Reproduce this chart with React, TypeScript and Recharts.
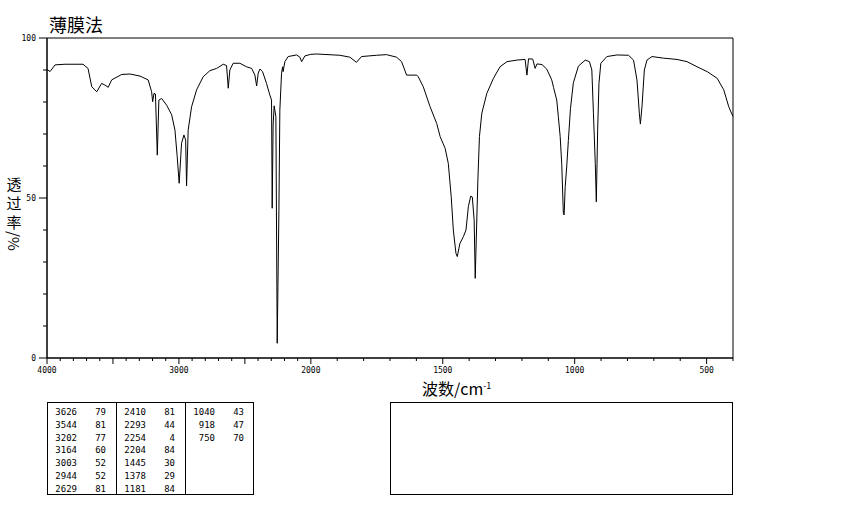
import React from "react"
import { LineChart, Line, XAxis, YAxis, ReferenceArea } from "recharts"

// spectrum trace (cm-1 / %T)
const wavenumbers = [
  4000, 3977, 3939, 3864, 3727, 3689, 3661, 3623, 3586, 3561, 3536, 3510, 3434, 3371, 3295, 3233, 3207, 3199,
  3189, 3178, 3164, 3152, 3131, 3093, 3055, 3030, 3013, 2998, 2980, 2962, 2949, 2942, 2930, 2904, 2866, 2816,
  2765, 2714, 2664, 2639, 2626, 2614, 2589, 2538, 2487, 2449, 2424, 2411, 2399, 2386, 2366, 2336, 2311, 2298,
  2293, 2286, 2278, 2265, 2255, 2242, 2235, 2222, 2214, 2210, 2197, 2172, 2108, 2083, 2070, 2045, 2000,
  1978, 1890, 1852, 1827, 1808, 1751, 1713, 1675, 1656, 1637, 1599, 1593, 1574, 1548, 1523, 1510, 1491, 1479,
  1468, 1460, 1450, 1445, 1435, 1422, 1412, 1403, 1394, 1388, 1381, 1377, 1367, 1361, 1352, 1333, 1308, 1283,
  1257, 1219, 1188, 1181, 1175, 1159, 1150, 1143, 1124, 1106, 1087, 1080, 1068, 1062, 1055, 1049, 1043, 1040,
  1036, 1030, 1024, 1016, 1005, 986, 960, 944, 935, 929, 922, 918, 913, 908, 901, 878, 840, 796, 777, 764,
  755, 751, 745, 736, 726, 707, 663, 612, 574, 536, 498, 460, 435, 416, 403, 400,
]
const transmittance = [
  90.2, 89.5, 91.6, 91.8, 91.8, 90.5, 84.8, 83.2, 85.8, 85.3, 84.6, 86.9, 88.6, 88.75, 88.1, 86.9, 83.2, 80.1,
  82.7, 82.5, 63.4, 80.6, 81.1, 79, 76, 71.2, 62.9, 54.6, 67.1, 69.7, 68.1, 53.8, 71.2, 78.5, 83.8, 87.9,
  89.8, 90.5, 91.8, 91.4, 84.3, 90, 92.1, 92.1, 91, 90.5, 88.4, 85, 89, 90.3, 89.5, 85.8, 82.2, 80.6,
  46.8, 72.8, 78.8, 75.4, 4.6, 46.2, 77.5, 89, 91, 89.5, 92.6, 94.2, 94.7, 94.0, 92.6, 94.4, 94.9,
  95, 94.6, 94, 92.4, 94.2, 94.6, 94.8, 94, 92.6, 88.4, 88.4, 87.9, 84.8, 78.5, 73.3, 69.2, 65.5, 60.8,
  50.4, 40, 32.7, 31.7, 35.8, 37.9, 40, 47.3, 50.6, 50.3, 43, 24.9, 55.6, 69.2, 76.5, 82.7, 87.4, 91,
  92.6, 93.1, 93.3, 88.4, 93.5, 93.4, 90.5, 91.9, 91.7, 90.3, 86.9, 84.5, 80.6, 75.4, 69.2, 60.5, 45.2, 44.7,
  53.5, 60, 68, 78, 86, 91.2, 93.1, 92.6, 90, 76.5, 60.8, 48.8, 71.2, 85.8, 92.1, 94.2, 94.7, 94.6, 93.1, 86.9,
  76.5, 73.1, 78.5, 90, 93.1, 94.2, 93.7, 93.3, 92.6, 91, 89.5, 87.4, 83.8, 78.5, 76, 75.5,
]

// peak list printed under the chart
const peakWn = [3626, 3544, 3202, 3164, 3003, 2944, 2629, 2410, 2293, 2254, 2204, 1445, 1378, 1181, 1040, 918, 750]
const peakT = [79, 81, 77, 60, 52, 52, 81, 81, 44, 4, 84, 30, 29, 84, 43, 47, 70]

const xLabels = [4000, 3000, 2000, 1500, 1000, 500]
const yTicks = [0, 10, 20, 30, 40, 50, 60, 70, 80, 90, 100]
const yLabels = [0, 50, 100]

// the axis is compressed 2x above 2000 cm-1
const pos = (wn: number) => (wn >= 2000 ? (4000 - wn) / 2 : 1000 + (2000 - wn))

const xTicks: number[] = []
for (let w = 4000; w >= 400; w -= 100) xTicks.push(w)

const data = wavenumbers.map((w, i) => ({ p: pos(w), t: transmittance[i] }))

const mono = "'DejaVu Sans Mono', monospace"
const cjk = "'Noto Sans CJK SC', sans-serif"

const XTick = (props: any) => {
  const { x, y, payload } = props
  const wn = xTicks.find((w) => pos(w) === payload.value) ?? 0
  const big = wn % 500 === 0
  const lab = xLabels.includes(wn)
  return (
    <g>
      <line x1={x} x2={x} y1={y} y2={y + (big ? 6 : 3)} stroke="#000" />
      {lab && (
        <text x={x} y={y + 15} textAnchor="middle" fontSize={8} fontFamily={mono} fill="#000">
          {wn}
        </text>
      )}
    </g>
  )
}

const YTick = (props: any) => {
  const { x, y, payload } = props
  const lab = yLabels.includes(payload.value)
  return (
    <g>
      <line x1={x} x2={x - (lab ? 8 : 4)} y1={y} y2={y} stroke="#000" />
      {lab && (
        <text x={x - 11} y={y + 3} textAnchor="end" fontSize={8} fontFamily={mono} fill="#000">
          {payload.value}
        </text>
      )}
    </g>
  )
}

const groups = [0, 7, 14].map((s) => peakWn.slice(s, s + 7).map((w, i) => [w, peakT[s + i]]))

export default function App() {
  return (
    <div style={{ position: "relative", width: 850, height: 510, background: "#fff" }}>
      <style>{`body{margin:0}`}</style>
      <LineChart width={850} height={510} data={data} margin={{ top: 38, right: 117, bottom: 122, left: 0 }}>
        <XAxis
          dataKey="p"
          type="number"
          domain={[0, 2600]}
          ticks={xTicks.map(pos)}
          tick={<XTick />}
          tickLine={false}
          tickSize={0}
          tickMargin={0}
          axisLine={{ stroke: "#000" }}
          height={30}
          interval={0}
        />
        <YAxis
          type="number"
          domain={[0, 100]}
          ticks={yTicks}
          tick={<YTick />}
          tickLine={false}
          tickSize={0}
          tickMargin={0}
          axisLine={{ stroke: "#000" }}
          width={47}
          interval={0}
        />
        <ReferenceArea x1={0} x2={2600} y1={0} y2={100} fill="none" stroke="#000" strokeWidth={1} />
        <Line
          type="linear"
          dataKey="t"
          stroke="#000"
          strokeWidth={1}
          dot={false}
          isAnimationActive={false}
        />
      </LineChart>

      <div style={{ position: "absolute", left: 49, top: 15, fontSize: 18, fontFamily: cjk, lineHeight: 1 }}>
        薄膜法
      </div>
      <div
        style={{
          position: "absolute",
          left: 6,
          top: 174,
          width: 16,
          fontSize: 15,
          fontFamily: cjk,
          lineHeight: "19px",
          textAlign: "center",
        }}
      >
        <div>透</div>
        <div>过</div>
        <div>率</div>
        <div style={{ writingMode: "vertical-rl", lineHeight: 1, margin: "0 auto" }}>/%</div>
      </div>
      <div style={{ position: "absolute", left: 422, top: 380, fontSize: 16, fontFamily: cjk, lineHeight: 1 }}>
        波数/cm<sup style={{ fontSize: 9, verticalAlign: 6 }}>-1</sup>
      </div>

      <div
        style={{
          position: "absolute",
          left: 47,
          top: 402,
          width: 205,
          height: 91,
          border: "1px solid #000",
          display: "flex",
          fontFamily: mono,
          fontSize: 9,
        }}
      >
        {groups.map((g, gi) => (
          <div
            key={gi}
            style={{
              width: gi < 2 ? 69 : 67,
              borderRight: gi < 2 ? "1px solid #000" : "none",
              paddingTop: 3,
              boxSizing: "border-box",
            }}
          >
            {g.map(([w, t], i) => (
              <div key={i} style={{ display: "flex", height: 12.8, lineHeight: "12.8px" }}>
                <span style={{ width: 29, textAlign: "right" }}>{w}</span>
                <span style={{ width: 29, textAlign: "right" }}>{t}</span>
              </div>
            ))}
          </div>
        ))}
      </div>
      <div
        style={{
          position: "absolute",
          left: 390,
          top: 402,
          width: 341,
          height: 91,
          border: "1px solid #000",
        }}
      />
    </div>
  )
}
